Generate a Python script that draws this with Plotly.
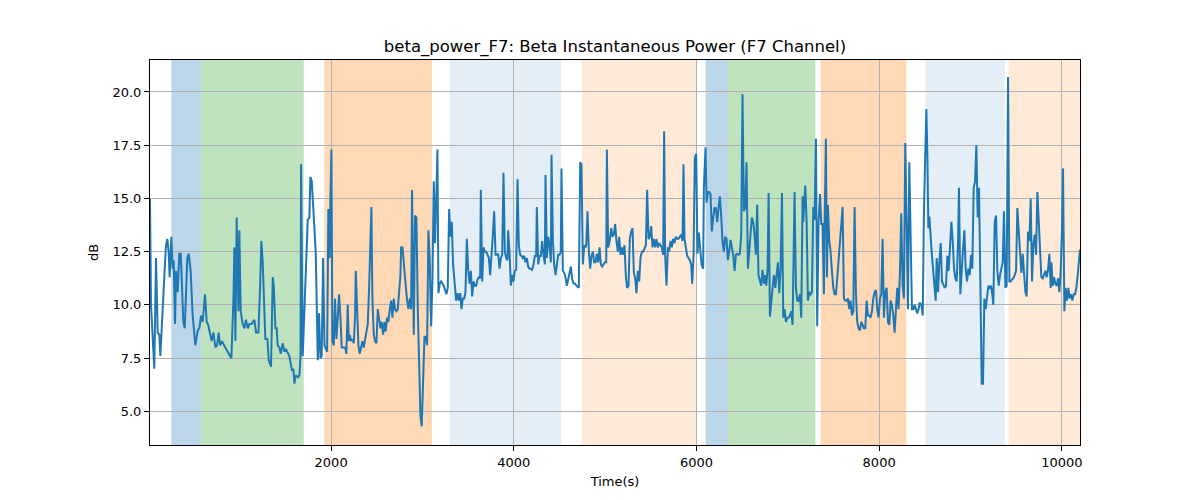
import plotly.graph_objects as go

# beta power trace (F7)
time_s = [17, 28, 64, 83, 101, 119, 130, 149, 163, 178, 192, 207, 221, 232, 251, 265, 276, 291, 302, 320,
          338, 353, 368, 382, 397, 411, 426, 441, 462, 484, 514, 539, 557, 576, 594, 619, 638, 652, 674, 692,
          711, 733, 751, 769, 784, 806, 828, 850, 868, 893, 908, 930, 941, 952, 966, 985, 995, 1010, 1032, 1050,
          1068, 1087, 1105, 1130, 1160, 1178, 1204, 1222, 1236, 1251, 1280, 1302, 1317, 1342, 1361, 1372, 1390, 1404, 1415, 1434,
          1448, 1470, 1488, 1507, 1543, 1572, 1587, 1598, 1612, 1638, 1653,
          1665, 1671, 1689, 1708, 1726, 1744, 1762, 1773, 1788, 1802, 1817, 1832, 1843, 1854, 1868, 1883, 1897, 1912, 1927,
          1941, 1956, 1970, 1985, 1992, 2003, 2014, 2029, 2043, 2058, 2073, 2087, 2102, 2116, 2135, 2153, 2167, 2182, 2193, 2204,
          2219, 2233, 2248, 2262, 2270, 2284, 2299, 2313, 2328, 2343, 2357, 2372, 2386, 2401, 2416, 2430, 2441, 2452, 2467, 2481,
          2496, 2511, 2525, 2540, 2554, 2569, 2584, 2598, 2613, 2627, 2642, 2657, 2671, 2686, 2700, 2715, 2730, 2744, 2759, 2766,
          2781, 2795, 2803, 2817, 2832, 2846, 2861, 2876, 2886, 2905, 2919, 2934, 2949, 2963, 2978, 2992, 3007, 3022, 3036, 3051,
          3065, 3080, 3095, 3109, 3124, 3138, 3153, 3164, 3175, 3189, 3204, 3219, 3233, 3248, 3262, 3277, 3292, 3306, 3321, 3335,
          3354, 3369, 3384, 3398, 3413, 3427, 3442, 3457, 3471, 3486, 3500, 3515, 3530, 3544, 3559, 3573, 3588, 3603, 3617, 3632,
          3639, 3654, 3668, 3683, 3698, 3712, 3727, 3741, 3756, 3771, 3785, 3800, 3814, 3829, 3844, 3858, 3873, 3887, 3902, 3917,
          3931, 3938, 3953, 3968, 3982, 3997, 4011, 4026, 4041, 4055, 4070, 4084, 4099, 4114, 4128, 4143, 4157, 4172, 4187, 4201,
          4216, 4230, 4245, 4252, 4267, 4282, 4296, 4311, 4325, 4340, 4347, 4362, 4376, 4391, 4406, 4413, 4428, 4442, 4457, 4471,
          4486, 4501, 4515, 4522, 4537, 4552, 4566, 4581, 4595, 4610, 4625, 4639, 4654, 4668, 4683, 4698, 4712, 4727, 4741, 4756,
          4771, 4785, 4793, 4807, 4822, 4836, 4851, 4866, 4880, 4895, 4909, 4924, 4939, 4953, 4968, 4982, 4997, 5012, 5019, 5033,
          5051, 5066, 5081, 5095, 5110, 5124, 5139, 5154, 5168, 5183, 5197, 5212, 5227, 5241, 5256, 5270, 5285, 5300, 5314, 5329,
          5343, 5358, 5373, 5387, 5402, 5416, 5431, 5446, 5460, 5475, 5489, 5504, 5519, 5533, 5548, 5562, 5577, 5592, 5606, 5621,
          5635, 5646, 5657, 5672, 5687, 5701, 5716, 5730, 5745, 5760, 5774, 5789, 5803, 5818, 5833, 5847, 5858, 5869, 5884, 5898,
          5913, 5927, 5942, 5953, 5968, 5982, 5997, 6011, 6026, 6041, 6055, 6073, 6081, 6099, 6110, 6125, 6139, 6154, 6168, 6183,
          6198, 6212, 6227, 6241, 6256, 6271, 6285, 6300, 6314, 6329, 6344, 6358, 6373, 6387, 6402, 6417, 6431, 6446, 6460, 6475,
          6490, 6504, 6519, 6533, 6548, 6563, 6577, 6592, 6606, 6621, 6636, 6650, 6665, 6679, 6694, 6709, 6723, 6738,
          6749, 6764, 6779, 6790, 6804, 6819, 6833, 6848, 6863, 6877, 6892, 6906, 6921, 6936, 6950, 6965, 6979, 6994, 7009, 7023,
          7038, 7052, 7067, 7074, 7089, 7103, 7118, 7133, 7147, 7162, 7169, 7184, 7191, 7206, 7220, 7235, 7249, 7264, 7279, 7293,
          7308, 7322, 7337, 7352, 7366, 7381, 7395, 7403, 7417, 7428, 7439, 7454, 7468, 7483, 7498, 7512, 7527, 7541, 7556, 7571,
          7585, 7600, 7614, 7629, 7644, 7658, 7673, 7687, 7702, 7717, 7731, 7746, 7760, 7775, 7790, 7804, 7819, 7833, 7848, 7863,
          7877, 7892, 7906, 7921, 7936, 7950, 7965, 7979, 7994, 8009, 8023, 8038, 8052, 8067, 8082, 8096, 8111, 8125, 8140, 8155,
          8169, 8184, 8198, 8213, 8228, 8242, 8257, 8271, 8286, 8301, 8315, 8330, 8344, 8359, 8374, 8388, 8403, 8417, 8432, 8443,
          8462, 8477, 8491, 8506, 8517, 8528, 8539, 8550, 8561, 8575, 8590, 8604, 8619, 8630, 8645, 8659, 8674, 8688, 8703, 8718,
          8732, 8747, 8761, 8776, 8791, 8805, 8820, 8834, 8849, 8864, 8874, 8889, 8904, 8918, 8933, 8947, 8962, 8977, 8991, 9006,
          9020, 9035, 9050, 9064, 9079, 9093, 9108, 9123, 9137, 9152, 9166, 9181, 9196, 9210, 9225, 9239, 9250, 9265, 9280, 9294,
          9309, 9323, 9338, 9353, 9367, 9382, 9396, 9411, 9426, 9440, 9455, 9469, 9484, 9499, 9513, 9528, 9542, 9557, 9572, 9586,
          9601, 9615, 9630, 9645, 9659, 9674, 9688, 9703, 9718, 9732, 9747, 9761, 9776, 9791, 9805, 9820, 9834, 9849, 9864, 9878,
          9886, 9900, 9915, 9929, 9944, 9959, 9973, 9988, 10002, 10013, 10028, 10042, 10057, 10072, 10086, 10101, 10115, 10130, 10145, 10159,
          10174, 10199]

power_db = [15.0, 10.0, 7.0, 12.2, 8.7, 8.6, 7.6, 9.5, 10.2, 11.7, 12.8, 13.1, 12.5, 11.3, 13.2, 11.7, 12.1, 9.1, 11.6, 10.6,
            12.4, 12.4, 10.8, 9.2, 8.9, 10.5, 12.2, 12.4, 11.6, 9.5, 8.1, 8.8, 8.9, 9.5, 9.2, 10.5, 9.2, 9.1, 8.7, 8.3,
            8.7, 8.0, 8.1, 8.7, 8.1, 8.3, 8.1, 7.9, 7.8, 7.6, 7.5, 10.2, 12.7, 8.3, 14.1, 9.7, 13.5, 9.7, 9.1, 8.9,
            9.3, 8.9, 9.1, 9.1, 9.3, 8.7, 8.7, 10.8, 13.0, 12.0, 8.4, 8.4, 7.4, 7.1, 11.3, 10.9, 8.9, 8.9, 8.1, 8.0,
            7.7, 8.2, 7.8, 7.9, 7.6, 6.9, 7.0, 6.3, 6.7, 6.6, 6.7,
            7.6, 16.6, 7.6, 9.8, 12.4, 14.0, 14.1, 16.0, 15.8, 14.9, 13.6, 12.4, 8.8, 7.4, 9.6, 7.5, 7.6, 12.2, 8.1,
            7.9, 7.8, 14.5, 12.2, 14.9, 17.3, 8.3, 8.1, 10.3, 8.4, 9.4, 10.5, 9.4, 8.0, 8.0, 8.0, 7.7, 10.0, 8.3, 8.6,
            8.3, 8.4, 8.2, 9.4, 11.6, 9.5, 8.1, 7.7, 8.0, 8.3, 8.0, 8.4, 8.9, 9.1, 10.8, 13.6, 14.6, 10.3, 8.6, 8.3,
            8.2, 9.8, 9.4, 8.9, 9.2, 8.6, 9.2, 8.75, 9.4, 9.2, 9.8, 10.2, 9.4, 10.3, 9.8, 9.7, 9.8, 10.5, 11.4, 12.7,
            12.7, 12.0, 11.4, 10.9, 10.2, 9.8, 10.3, 9.8, 15.4, 8.6, 14.2, 14.1, 9.8, 6.9, 4.75, 4.3, 6.9, 8.5, 8.5, 8.1,
            13.5, 12.0, 9.0, 11.1, 15.8, 12.9, 15.3, 17.3, 10.55, 11.0, 11.1, 11.0, 10.9, 10.7, 10.5, 10.8, 14.5, 13.2, 13.9, 11.9,
            10.7, 10.2, 10.55, 10.2, 10.55, 9.8, 10.3, 10.3, 10.6, 13.1, 11.7, 11.0, 11.6, 10.4, 11.1, 10.9, 10.9, 11.2, 11.3, 11.25,
            15.4, 11.1, 12.7, 12.5, 12.5, 12.35, 12.2, 11.4, 12.2, 13.3, 14.4, 12.35, 12.35, 12.4, 11.7, 12.2, 12.35, 16.2, 12.5, 12.2,
            12.1, 13.5, 12.5, 10.9, 11.4, 11.1, 11.6, 11.65, 15.9, 12.8, 12.35, 12.3, 12.2, 12.3, 12.0, 12.2, 11.8, 11.7, 11.7, 11.65,
            11.9, 12.3, 12.3, 14.6, 11.9, 12.3, 12.3, 13.0, 12.35, 11.9, 16.1, 12.2, 13.2, 12.8, 12.0, 17.05, 13.0, 11.9, 11.4, 11.95,
            12.35, 12.35, 12.5, 16.4, 11.6, 11.5, 11.3, 10.9, 11.2, 11.5, 11.8, 11.2, 11.0, 11.0, 10.9, 10.85, 10.8, 16.7, 16.6, 11.9,
            12.8, 12.7, 12.8, 14.4, 12.5, 11.7, 12.3, 12.5, 12.0, 12.0, 12.4, 12.0, 12.7, 11.9, 11.8, 11.9, 12.0, 12.0, 17.3, 12.7,
            13.0, 13.6, 13.2, 13.3, 13.8, 13.0, 12.5, 13.2, 12.35, 12.7, 12.35, 12.8, 11.3, 10.8, 10.9, 13.1, 13.45, 13.6, 11.5, 11.25,
            10.55, 11.6, 11.1, 12.2, 12.5, 12.5, 12.7, 12.8, 15.4, 13.1, 13.2, 13.7, 12.7, 13.1, 12.7, 13.1, 12.7, 12.9, 12.8, 12.7,
            12.35, 18.15, 12.35, 10.9, 12.7, 12.5, 13.0, 12.7, 13.1, 12.9, 13.2, 13.1, 13.1, 13.2, 13.3, 13.0, 16.6, 13.1, 12.7, 12.3,
            12.2, 12.1, 11.9, 11.0, 12.35, 16.9, 17.1, 12.4, 13.4, 12.4, 11.9, 11.7, 15.5, 17.4, 14.8, 15.3, 15.3, 15.2, 13.45, 14.1,
            14.55, 14.55, 13.9, 14.55, 15.1, 14.15, 12.98, 12.5, 13.2, 13.1, 12.1, 12.5, 13.05, 12.7, 12.35, 11.6, 12.35, 12.4, 12.35, 12.4,
            13.3, 19.9, 14.4, 14.55, 16.7, 11.7, 12.5, 13.1, 14.1, 13.9, 13.3, 12.35, 14.7, 11.4, 11.1, 10.9, 11.65, 11.0,
            11.4, 10.9, 11.7, 15.25, 9.45, 10.3, 10.8, 11.4, 10.8, 11.4, 12.0, 10.55, 11.7, 15.25, 9.4, 9.8, 9.2, 9.4, 9.4, 9.5,
            9.7, 9.06, 12.7, 15.3, 10.8, 10.2, 10.2, 10.5, 9.4, 15.1, 13.9, 15.0, 15.6, 13.9, 10.2, 10.6, 10.5, 10.6, 14.6, 14.0,
            17.8, 9.0, 13.9, 15.2, 13.8, 13.8, 10.5, 13.9, 17.8, 11.3, 14.7, 13.0, 12.5, 11.6, 10.8, 10.5, 10.5, 11.25, 12.1, 12.8,
            13.8, 14.6, 10.3, 10.2, 10.2, 10.3, 9.8, 10.2, 9.5, 9.7, 14.6, 10.5, 9.2, 8.9, 8.8, 9.2, 9.06, 8.9, 8.9, 10.2,
            9.5, 9.5, 9.4, 9.7, 10.3, 10.6, 10.7, 9.8, 9.4, 10.3, 10.5, 13.1, 9.4, 10.6, 10.8, 9.2, 9.06, 10.2, 10.0, 9.5,
            8.7, 10.1, 10.8, 9.8, 11.6, 14.3, 10.9, 10.3, 17.6, 13.8, 9.8, 16.7, 12.5, 9.8, 9.8, 10.0, 9.8, 9.6, 9.8, 10.1,
            10.0, 9.5, 14.55, 17.7, 19.2, 17.05, 13.6, 14.15, 13.6, 12.5, 11.7, 10.9, 10.2, 12.2, 10.6, 12.0, 12.9, 11.1, 10.9, 10.8,
            10.9, 12.3, 11.6, 12.7, 13.9, 13.0, 11.7, 11.25, 11.1, 13.0, 15.5, 10.5, 11.9, 12.6, 13.5, 11.7, 11.1, 11.7, 11.4, 12.35,
            11.7, 15.5, 15.8, 17.5, 14.1, 15.5, 11.1, 6.3, 6.3, 10.3, 9.8, 10.3, 10.9, 10.8, 10.9, 10.5, 10.0, 13.9, 14.2, 11.6,
            10.9, 11.4, 11.7, 12.0, 14.4, 10.8, 10.9, 20.7, 11.1, 11.1, 11.2, 11.25, 11.4, 11.6, 14.55, 13.6, 12.7, 11.5, 12.4, 11.4,
            10.6, 10.4, 13.45, 13.0, 15.0, 11.1, 12.8, 13.3, 12.35, 15.3, 13.9, 12.2, 11.3, 11.25, 11.4, 11.6, 11.3, 11.65, 12.4, 10.8,
            12.0, 10.9, 11.3, 11.0, 10.9, 11.25, 10.6, 11.6, 13.6, 16.4, 9.7, 10.8, 10.2, 10.8, 10.3, 10.5, 10.2, 10.5, 10.5, 10.8,
            11.4, 12.6]

# shaded segments: start, end, colour
seg_start = [251, 576, 1926, 3299, 4745, 6100, 6344, 7359, 8509, 9419]
seg_end = [576, 1700, 3106, 4519, 5993, 6344, 7301, 8298, 9375, 10199]
seg_color = ["rgba(31,119,180,0.3)", "rgba(44,160,44,0.3)", "rgba(255,127,14,0.3)",
             "rgba(31,119,180,0.12)", "rgba(255,127,14,0.16)",
             "rgba(31,119,180,0.3)", "rgba(44,160,44,0.3)", "rgba(255,127,14,0.3)",
             "rgba(31,119,180,0.12)", "rgba(255,127,14,0.16)"]

x_ticks = [2000, 4000, 6000, 8000, 10000]
y_ticks = [5, 7.5, 10, 12.5, 15, 17.5, 20]

fig = go.Figure()

for s, e, c in zip(seg_start, seg_end, seg_color):
    fig.add_vrect(x0=s, x1=e, fillcolor=c, line_width=0, layer="below")

fig.add_trace(go.Scatter(x=time_s, y=power_db, mode="lines",
                         line=dict(color="#1f77b4", width=2), showlegend=False))

# the page body adds an 8px margin, so the margins are shifted to compensate
fig.update_layout(
    width=1200, height=500,
    paper_bgcolor="white", plot_bgcolor="rgba(0,0,0,0)",
    margin=dict(l=142, r=128, t=52, b=63),
    font=dict(family="DejaVu Sans", size=13, color="black"),
    title=dict(text="beta_power_F7: Beta Instantaneous Power (F7 Channel)",
               x=0.5058, xanchor="center", y=0.924, yanchor="middle",
               font=dict(size=16.5)),
)
fig.update_xaxes(range=[17, 10199], tickvals=x_ticks, ticktext=[str(t) for t in x_ticks],
                 showgrid=True, gridcolor="#b0b0b0", gridwidth=1,
                 showline=True, linecolor="black", linewidth=1, mirror=True,
                 ticks="outside", ticklen=5, tickcolor="black",
                 zeroline=False, title=dict(text="Time(s)", standoff=8, font=dict(size=13)))
fig.update_yaxes(range=[3.42, 21.5], tickvals=y_ticks, tickformat=".1f",
                 showgrid=True, gridcolor="#b0b0b0", gridwidth=1,
                 showline=True, linecolor="black", linewidth=1, mirror=True,
                 ticks="outside", ticklen=5, tickcolor="black",
                 zeroline=False, title=dict(text="dB", standoff=10, font=dict(size=13)))

fig.write_html("out.html")
